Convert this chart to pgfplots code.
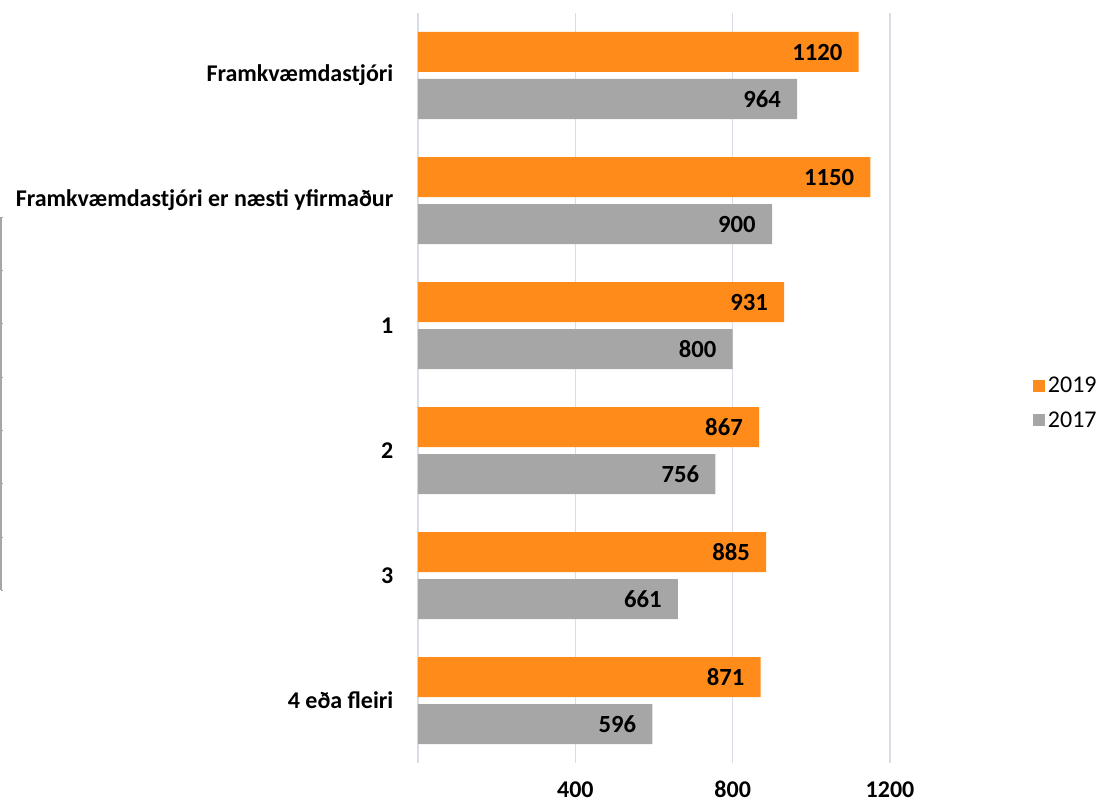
\documentclass[border=0pt]{standalone}
\usepackage{pgfplots}
\pgfplotsset{compat=1.18}
\usepackage{fontspec}
\setmainfont{Carlito}
\definecolor{c2019}{RGB}{255,140,26}
\definecolor{c2017}{RGB}{166,166,166}
\definecolor{gridc}{RGB}{217,222,230}
\begin{document}
\begin{tikzpicture}
\path[use as bounding box] (0,0) rectangle (830.25pt,602.25pt);
% decorative left rule
\draw[c2017, line width=0.8pt] (0.75pt,439.5pt) -- (0.75pt,159.75pt);
\foreach \yy in {439.5,399.5,359.5,319.5,279.5,239.5,199.5,159.75}
  \draw[c2017, line width=0.6pt] (0.75pt,\yy pt) -- (2.5pt,\yy pt);
\begin{axis}[
  at={(313.5pt,30pt)}, anchor=south west,
  scale only axis, width=354pt, height=562.5pt,
  xbar, bar width=0.32,
  xmin=0, xmax=1200,
  ymin=-0.5, ymax=5.5, y dir=reverse,
  ytick={0,1,2,3,4,5},
  yticklabels={Framkvæmdastjóri,Framkvæmdastjóri er næsti yfirmaður,1,2,3,4 eða fleiri},
  xtick={0,400,800,1200},
  xticklabels={,400,800,1200},
  axis line style={draw=none},
  major tick style={draw=none},
  xmajorgrids, major grid style={gridc, line width=1pt},
  xticklabel style={font=\fontsize{18}{20}\selectfont\bfseries, inner sep=0pt, yshift=-13.5pt},
  yticklabel style={font=\fontsize{18}{21}\selectfont\bfseries, anchor=east, inner sep=0pt, xshift=-14pt},
  /pgf/number format/assume math mode=true,
  /pgf/number format/1000 sep={},
  nodes near coords,
  every node near coord/.append style={anchor=east, xshift=-12pt, inner sep=0pt, font=\fontsize{18.5}{20}\selectfont\bfseries, text=black},
  legend style={at={(rel axis cs:1.303,0.48)}, anchor=west, draw=none, fill=none,
    font=\fontsize{18}{20}\selectfont, row sep=9pt, inner sep=0pt,
    cells={anchor=west}},
  legend image code/.code={\fill (0pt,-4.5pt) rectangle (9pt,4.5pt);},
]
\addplot[draw=none, fill=c2019, bar shift=-0.188] coordinates {(1120,0) (1150,1) (931,2) (867,3) (885,4) (871,5)};
\addplot[draw=none, fill=c2017, bar shift=0.188] coordinates {(964,0) (900,1) (800,2) (756,3) (661,4) (596,5)};
\legend{2019,2017}
\end{axis}
\end{tikzpicture}
\end{document}
